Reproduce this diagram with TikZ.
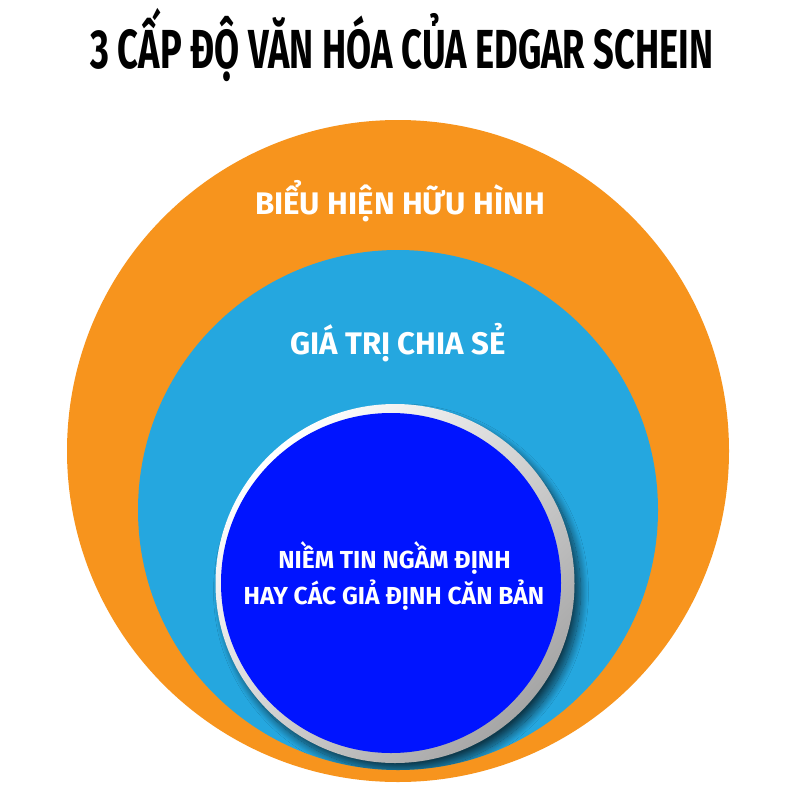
\documentclass[tikz,border=0pt]{standalone}
\usepackage{fontspec}
\setmainfont{Fira Sans}
\newfontfamily\titlefont[FakeStretch=0.66]{Fira Sans}
\usetikzlibrary{shadows.blur}
\definecolor{corange}{HTML}{F7941D}
\definecolor{clight}{HTML}{25A7DF}
\definecolor{cblue}{HTML}{0014FF}
\begin{document}
\begin{tikzpicture}[x=1pt,y=-1pt,
  disc/.style={circle, inner sep=0pt, outer sep=0pt, draw=none},
  lbl/.style={text=white, anchor=base, inner sep=0pt, font=\bfseries\fontsize{31.2}{36}\selectfont},
  innerlbl/.style={text=white, anchor=base, inner sep=0pt, font=\bfseries\fontsize{24.6}{28}\selectfont},
  titlelbl/.style={text=black, anchor=base, inner sep=0pt, font=\titlefont\bfseries\fontsize{55}{60}\selectfont}]
\useasboundingbox (0,0) rectangle (800,800);
\fill[white] (0,0) rectangle (800,800);
\node[titlelbl] (title) at (402,69) {3 CẤP ĐỘ VĂN HÓA CỦA EDGAR SCHEIN};
\node[disc, fill=corange, minimum size=662pt] (outer) at (398,451) {};
\node[disc, fill=clight, minimum size=520pt] (middle) at (398,510) {};
\begin{scope}
\clip (398,510) circle (260);
\node[disc, minimum size=359pt, top color=white, middle color=white, bottom color=black!35, shading angle=45,
  blur shadow={shadow xshift=6pt, shadow yshift=-8pt, shadow blur radius=8pt, shadow opacity=65, shadow blur steps=20}] (ring) at (395,583.5) {};
\end{scope}
\node[disc, fill=cblue, minimum size=340pt] (core) at (391,583) {};
\node[lbl] (l1) at (400,214) {BIỂU HIỆN HỮU HÌNH};
\node[lbl] (l2) at (398,354) {GIÁ TRỊ CHIA SẺ};
\node[innerlbl] (l3a) at (394.5,568) {NIỀM TIN NGẦM ĐỊNH};
\node[innerlbl] (l3b) at (394,604) {HAY CÁC GIẢ ĐỊNH CĂN BẢN};
\end{tikzpicture}
\end{document}
